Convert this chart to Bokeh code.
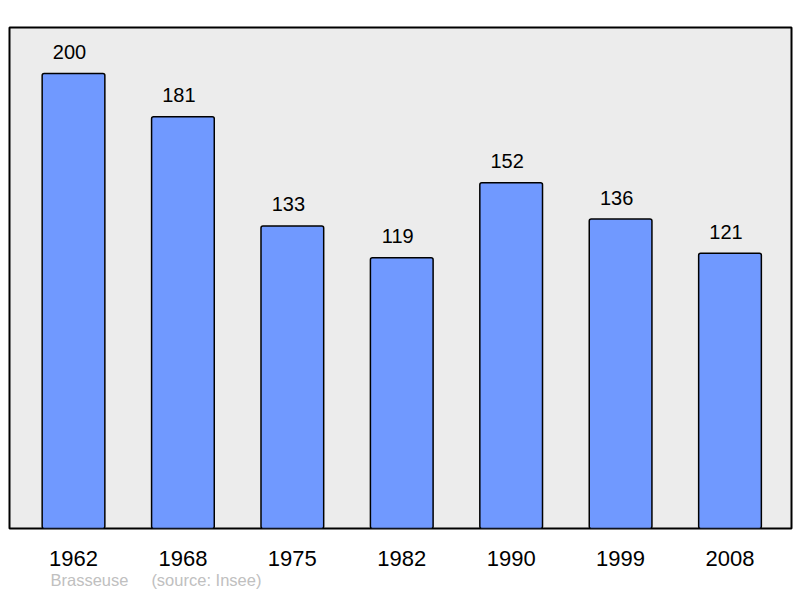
from bokeh.plotting import figure
from bokeh.models import Range1d, FixedTicker, ColumnDataSource, Title
from bokeh.embed import file_html
from bokeh.resources import INLINE
from bokeh.core.properties import value

years = ["1962", "1968", "1975", "1982", "1990", "1999", "2008"]
population = [200, 181, 133, 119, 152, 136, 121]
commune = "Brasseuse"
source_note = "(source: Insee)"

FONT = "Liberation Sans"
xs = list(range(len(years)))
src = ColumnDataSource(dict(x=xs, top=population, label=[str(v) for v in population]))

p = figure(width=800, height=598, output_backend="svg", toolbar_location=None,
           x_range=Range1d(-0.585, 6.562), y_range=Range1d(0, 220.2),
           min_border_left=9, min_border_right=9, min_border_top=27, min_border_bottom=70)
p.background_fill_color = "#ececec"
p.border_fill_color = "white"
p.outline_line_color = "black"
p.outline_line_width = 2
p.grid.visible = False
p.yaxis.visible = False

p.vbar(x="x", top="top", bottom=0, width=0.573, source=src,
       fill_color="#7099ff", line_color="black", line_width=1.5, border_radius=2)

p.text(x="x", y="top", text="label", source=src, x_offset=-4, y_offset=-21.5,
       text_align="center", text_baseline="alphabetic", text_font=value(FONT),
       text_font_size="20px", text_color="black")

ax = p.xaxis[0]
ax.ticker = FixedTicker(ticks=xs)
ax.major_label_overrides = {i: y for i, y in enumerate(years)}
ax.axis_line_color = None
ax.major_tick_line_color = None
ax.minor_tick_line_color = None
ax.major_tick_out = 0
ax.major_tick_in = 0
ax.major_label_standoff = 22
ax.major_label_text_font = FONT
ax.major_label_text_font_size = "22px"
ax.major_label_text_color = "black"

footer = Title(text=commune + "\u00a0" * 5 + source_note, align="left", offset=41,
               standoff=0, text_font=FONT, text_font_size="16.5px",
               text_font_style="normal", text_color="#c0c0c0")
p.add_layout(footer, "below")

open("out.html", "w").write(file_html(p, INLINE))
